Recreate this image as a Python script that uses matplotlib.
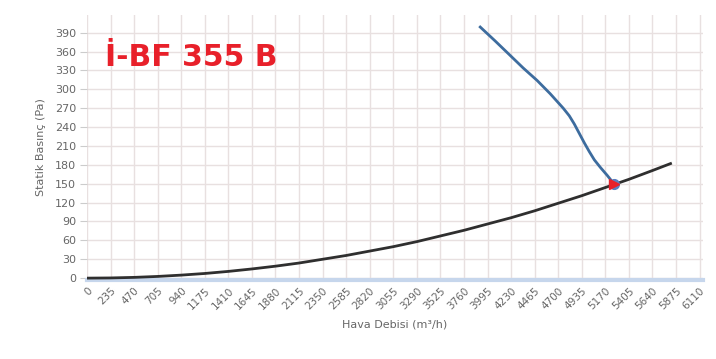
import matplotlib.pyplot as plt

# --- Veri ---
x_ticks = list(range(0, 6111, 235))
y_ticks = list(range(0, 391, 30))

sys_q = [0, 235, 470, 705, 940, 1175, 1410, 1645, 1880, 2115, 2350, 2585, 2820,
         3055, 3290, 3525, 3760, 3995, 4230, 4465, 4700, 4935, 5170, 5405, 5640, 5820]
sys_p = [0, 0.3, 1.2, 2.7, 4.8, 7.4, 10.7, 14.6, 19, 24, 30, 36, 43,
         50, 58, 67, 76, 86, 96, 107, 119, 131, 144, 157, 171, 182]

fan_q = [3922, 4070, 4220, 4350, 4490, 4620, 4750, 4810, 4860, 4910, 4960,
         5010, 5060, 5120, 5190, 5255]
fan_p = [399, 377, 354, 334, 314, 293, 270, 258, 245, 230, 215,
         201, 188, 176, 163, 150]

op_q = [5255]
op_p = [150]

fig = plt.figure(figsize=(7.16, 3.59), dpi=100)
ax = fig.add_axes([0.1215, 0.22, 0.8605, 0.738])

ax.plot(sys_q, sys_p, color="#2f2f2f", linewidth=2, zorder=3)
ax.plot(fan_q, fan_p, color="#3d6c9e", linewidth=2, zorder=3)
ax.plot(op_q, op_p, marker="o", color="#5a7fc0", markersize=7, zorder=4)
ax.plot(op_q, op_p, marker=">", color="#e8202a", markersize=7, zorder=5)

ax.set_xlim(0, 6145)
ax.set_ylim(-3, 418)
ax.set_xticks(x_ticks)
ax.set_yticks(y_ticks)
ax.set_xticklabels([str(v) for v in x_ticks], rotation=45, ha="right",
                   rotation_mode="anchor", fontsize=7.5, color="#666666")
ax.set_yticklabels([str(v) for v in y_ticks], fontsize=8, color="#666666")
ax.tick_params(axis="x", length=0, pad=4)
ax.tick_params(axis="y", length=5, color="#cccccc", pad=3)

ax.grid(True, color="#e8e0e0", linewidth=1)
ax.set_axisbelow(True)
for side in ["top", "right", "left"]:
    ax.spines[side].set_visible(False)
ax.spines["bottom"].set_color("#c6d6ec")
ax.spines["bottom"].set_linewidth(3)

ax.set_xlabel("Hava Debisi (m³/h)", fontsize=8, color="#666666", labelpad=6)
ax.set_ylabel("Statik Basınç (Pa)", fontsize=8, color="#666666", labelpad=6)

ax.text(0.03, 0.84, "İ-BF 355 B", transform=ax.transAxes, fontsize=21.5,
        fontweight="bold", color="#e8202a", va="center", ha="left")

plt.savefig("out.png", dpi=100)
plt.close()
